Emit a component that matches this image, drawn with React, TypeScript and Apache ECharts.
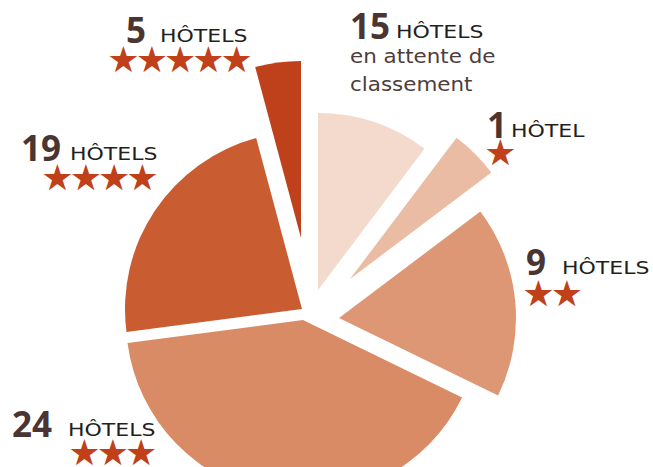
import React, { useEffect, useRef } from "react";
import * as echarts from "echarts";

// ---- data ----
const categories = ["En attente de classement", "1 étoile", "2 étoiles", "3 étoiles", "4 étoiles", "5 étoiles"];
const hotelCounts = [15, 1, 9, 24, 19, 5];
const starCounts = [0, 1, 2, 3, 4, 5];
const unitLabels = ["HÔTELS", "HÔTEL", "HÔTELS", "HÔTELS", "HÔTELS", "HÔTELS"];
const subLabels = ["en attente de", "classement"];
// angular share of each slice as drawn (degrees)
const sliceDegrees = [37, 16, 63, 146.5, 82.5, 15];

// ---- styles / layout ----
const sliceColors = ["#f3dacc", "#eabca3", "#dd9774", "#d98b66", "#c95c31", "#bf411b"];
const sliceApex = [
  [318, 290],
  [350, 279],
  [339, 318],
  [303, 320],
  [302, 309],
  [301, 238],
];
const sliceRadius = 177;
// label anchors: number [x, baseline], word [x, baseline], stars [left, centreY]
const labelPos = [
  { num: [350, 38], word: [396, 38], stars: [0, 0] },
  { num: [487, 137], word: [511, 137], stars: [488, 152] },
  { num: [526, 274], word: [562, 274], stars: [526, 293] },
  { num: [12, 436], word: [68, 436], stars: [72, 452.5] },
  { num: [21, 160], word: [70, 160], stars: [45, 177.5] },
  { num: [126, 42], word: [160, 42], stars: [111, 59] },
];
const NUM_SIZE = 35;
const WORD_SIZE = 18.5;
const WORD_STRETCH = 1.19;
const SUB_SIZE = 19.5;
const SUB_STRETCH = 1.1;
const STAR_SIZE = 36;
const STAR_PITCH = 28.3;
const numColor = "#4a3532";
const wordColor = "#231f20";
const subColor = "#4e3d3b";
const starColor = "#c0401a";

export default function App() {
  const ref = useRef<HTMLDivElement>(null);
  useEffect(() => {
    if (!ref.current) return;
    const chart = echarts.init(ref.current, undefined, { renderer: "svg" });

    const series: any[] = sliceDegrees.map((_, k) => ({
      type: "pie",
      center: sliceApex[k],
      radius: [0, sliceRadius],
      startAngle: 90,
      clockwise: true,
      silent: true,
      label: { show: false },
      labelLine: { show: false },
      emphasis: { disabled: true },
      data: sliceDegrees.map((v, i) => ({
        name: categories[i],
        value: v,
        itemStyle: { color: i === k ? sliceColors[k] : "rgba(0,0,0,0)", borderWidth: 0 },
      })),
    }));

    const graphic: any[] = [];
    hotelCounts.forEach((n, i) => {
      const p = labelPos[i];
      graphic.push({
        type: "text",
        x: p.num[0],
        y: p.num[1] - NUM_SIZE * 0.37,
        style: {
          text: String(n),
          font: `bold ${NUM_SIZE}px "Open Sans", sans-serif`,
          fill: numColor,
          align: "left",
          verticalAlign: "middle",
        },
      });
      graphic.push({
        type: "text",
        x: p.word[0],
        y: p.word[1] - WORD_SIZE * 0.35,
        scaleX: WORD_STRETCH,
        style: {
          text: unitLabels[i],
          font: `normal ${WORD_SIZE}px "DejaVu Sans", sans-serif`,
          fill: wordColor,
          align: "left",
          verticalAlign: "middle",
        },
      });
      for (let s = 0; s < starCounts[i]; s++) {
        graphic.push({
          type: "text",
          x: p.stars[0] + 12.5 + s * STAR_PITCH,
          y: p.stars[1],
          style: {
            text: "★",
            font: `${STAR_SIZE}px "DejaVu Sans", sans-serif`,
            fill: starColor,
            align: "center",
            verticalAlign: "middle",
          },
        });
      }
    });
    subLabels.forEach((t, j) => {
      graphic.push({
        type: "text",
        x: 350,
        y: 63 + j * 28 - SUB_SIZE * 0.35,
        scaleX: SUB_STRETCH,
        style: {
          text: t,
          font: `normal ${SUB_SIZE}px "DejaVu Sans", sans-serif`,
          fill: subColor,
          align: "left",
          verticalAlign: "middle",
        },
      });
    });

    chart.setOption({
      animation: false,
      backgroundColor: "#ffffff",
      series,
      graphic,
    });
    return () => chart.dispose();
  }, []);
  return (
    <div
      ref={ref}
      style={{ position: "fixed", left: 0, top: 0, width: 653, height: 467 }}
    />
  );
}
